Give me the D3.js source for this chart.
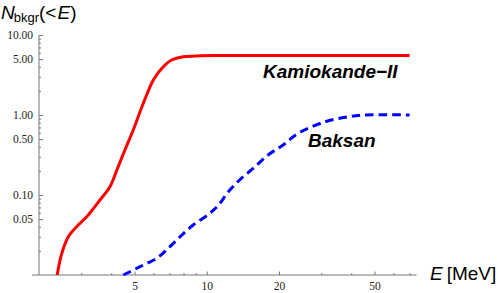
<!DOCTYPE html>
<html>
<head>
<meta charset="utf-8">
<script src="https://cdn.jsdelivr.net/npm/d3@7"></script>
<style>
  body { margin: 0; background: #fff; }
  .tick text { font-family: "Liberation Serif", "Times New Roman", serif; font-size: 11.5px; fill: #222; }
  .lbl { font-family: "Liberation Sans", Arial, sans-serif; fill: #000; }
</style>
</head>
<body>
<div id="chart"></div>
<script>
// Kamiokande-II background, cumulative counts below E
var kamEnergy = [2.38, 2.49, 2.65, 2.87, 3.16, 3.59, 3.95, 4.22, 4.56, 4.94, 5.44, 5.99, 6.49, 7.14, 7.98, 9.38, 12, 20, 70];
var kamCount  = [0.01, 0.0187, 0.0301, 0.0402, 0.0535, 0.0866, 0.127, 0.205, 0.365, 0.649, 1.40, 2.74, 3.82, 4.87, 5.35, 5.5, 5.53, 5.55, 5.55];

// Baksan background
var baksanEnergy = [4.49, 5.27, 6.19, 6.91, 7.74, 8.78, 10.3, 11.2, 12.3, 13.7, 15.6, 18.0, 20.8, 24.0, 31.0, 38.8, 45.4, 70];
var baksanCount  = [0.01, 0.0127, 0.0162, 0.0216, 0.0301, 0.0422, 0.059, 0.075, 0.110, 0.154, 0.215, 0.316, 0.422, 0.59, 0.82, 0.95, 1.0, 1.0];

var xMajor = [5, 10, 20, 50];
var xMinor = [3, 4, 6, 7, 8, 9, 30, 40, 60, 70];
var yMajor = [0.05, 0.1, 0.5, 1, 5, 10];
var yMinor = [0.02, 0.03, 0.04, 0.06, 0.07, 0.08, 0.09, 0.2, 0.3, 0.4, 0.6, 0.7, 0.8, 0.9, 2, 3, 4, 6, 7, 8, 9];

var w = 498, h = 293;
var svg = d3.select("#chart").append("svg")
  .attr("width", w)
  .attr("height", h);

var x = d3.scaleLog().domain([2, 70]).range([39, 409.6]);
var y = d3.scaleLog().domain([0.01, 10]).range([275, 35]);

var axisColor = "#777";

// x axis
var gx = svg.append("g").attr("transform", "translate(0," + y(0.01) + ")");
gx.append("line")
  .attr("x1", x(2) - 7).attr("x2", x(70) + 7)
  .attr("stroke", axisColor);
gx.append("g")
  .call(d3.axisBottom(x).tickValues(xMajor).tickSizeInner(-3.5).tickSizeOuter(0).tickPadding(7)
    .tickFormat(d3.format("d")))
  .call(function(g) { g.select(".domain").remove(); });
gx.append("g")
  .call(d3.axisBottom(x).tickValues(xMinor).tickSizeInner(-2).tickSizeOuter(0).tickFormat(""))
  .call(function(g) { g.select(".domain").remove(); });
gx.selectAll(".tick line").attr("stroke", axisColor);

// y axis
var gy = svg.append("g").attr("transform", "translate(" + x(2) + ",0)");
gy.append("line")
  .attr("y1", y(0.01)).attr("y2", y(10))
  .attr("stroke", axisColor);
gy.append("g")
  .call(d3.axisLeft(y).tickValues(yMajor).tickSizeInner(-4).tickSizeOuter(0).tickPadding(6)
    .tickFormat(d3.format(".2f")))
  .call(function(g) { g.select(".domain").remove(); });
gy.append("g")
  .call(d3.axisLeft(y).tickValues(yMinor).tickSizeInner(-2).tickSizeOuter(0).tickFormat(""))
  .call(function(g) { g.select(".domain").remove(); });
gy.selectAll(".tick line").attr("stroke", axisColor);

var line = d3.line()
  .x(function(d) { return x(d[0]); })
  .y(function(d) { return y(d[1]); })
  .curve(d3.curveCatmullRom.alpha(0.5));

svg.append("path")
  .datum(d3.zip(kamEnergy, kamCount))
  .attr("d", line)
  .attr("fill", "none")
  .attr("stroke", "#ff0000")
  .attr("stroke-width", 3);

svg.append("path")
  .datum(d3.zip(baksanEnergy, baksanCount))
  .attr("d", line)
  .attr("fill", "none")
  .attr("stroke", "#0000ff")
  .attr("stroke-width", 3)
  .attr("stroke-dasharray", "8.5,5");

// curve labels
svg.append("text").attr("class", "lbl")
  .attr("x", 263).attr("y", 77.5)
  .attr("font-size", 19).attr("font-weight", "bold").attr("font-style", "italic")
  .text("Kamiokande\u2212II");
svg.append("text").attr("class", "lbl")
  .attr("x", 308).attr("y", 147)
  .attr("font-size", 19).attr("font-weight", "bold").attr("font-style", "italic")
  .text("Baksan");

// axis titles
var yt = svg.append("text").attr("class", "lbl").attr("x", 1).attr("y", 18.5).attr("font-size", 19);
yt.append("tspan").attr("font-style", "italic").text("N");
yt.append("tspan").attr("font-size", 13).attr("dy", 3).attr("dx", -1).text("bkgr");
yt.append("tspan").attr("dy", -3).text("(<");
yt.append("tspan").attr("font-style", "italic").attr("dx", 1).text("E");
yt.append("tspan").text(")");

var xt = svg.append("text").attr("class", "lbl").attr("x", 430).attr("y", 280).attr("font-size", 19);
xt.append("tspan").attr("font-style", "italic").text("E");
xt.append("tspan").attr("dx", 4).text("[MeV]");
</script>
</body>
</html>
